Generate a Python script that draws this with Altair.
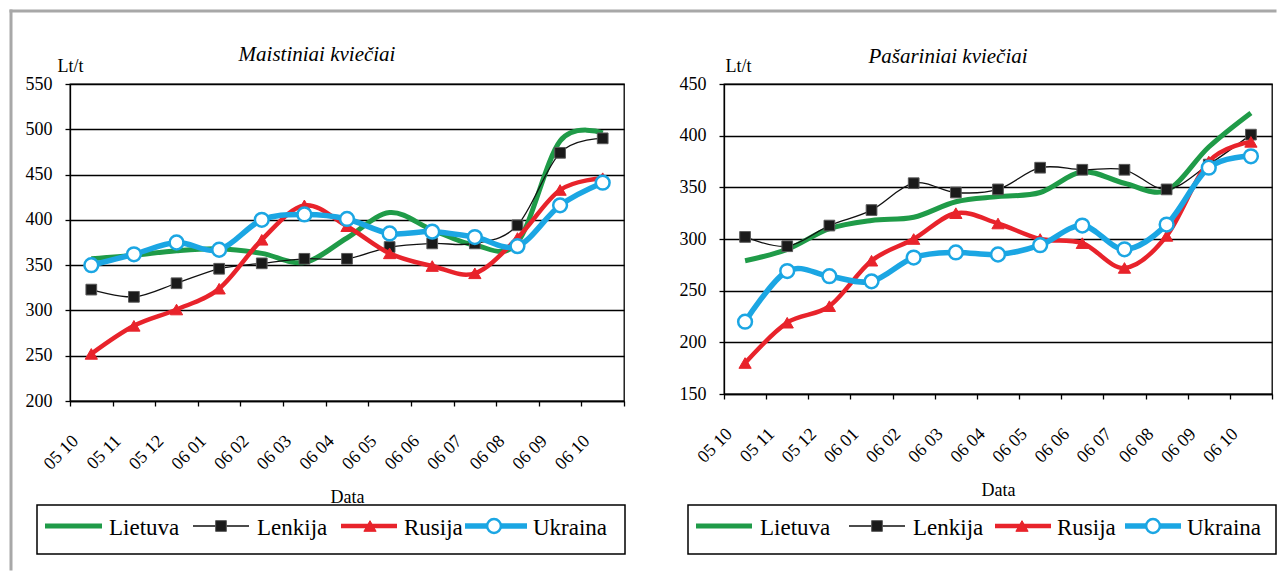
import altair as alt
import pandas as pd

months = ["05 10", "05 11", "05 12", "06 01", "06 02", "06 03", "06 04",
          "06 05", "06 06", "06 07", "06 08", "06 09", "06 10"]
series = ["Lietuva", "Lenkija", "Rusija", "Ukraina"]

# Maistiniai kviečiai (Lt/t)
food_lietuva = [357, 361, 366, 368, 363, 353, 380, 408, 389, 372, 375, 487, 496]
food_lenkija = [323, 315, 330, 346, 352, 357, 357, 370, 374, 374, 394, 474, 490]
food_rusija = [252, 283, 301, 324, 378, 416, 393, 363, 349, 341, 380, 433, 446]
food_ukraina = [350, 362, 375, 367, 400, 406, 401, 385, 387, 381, 371, 416, 441]

# Pašariniai kviečiai (Lt/t)
feed_lietuva = [279, 290, 310, 318, 321, 336, 341, 345, 365, 354, 347, 389, 422]
feed_lenkija = [302, 293, 313, 328, 354, 345, 348, 369, 367, 367, 348, 372, 401]
feed_rusija = [180, 219, 235, 279, 300, 325, 315, 300, 296, 272, 303, 375, 394]
feed_ukraina = [220, 269, 264, 259, 282, 287, 285, 294, 313, 290, 314, 369, 380]

FONT = "Liberation Serif"
GREEN = "#1f9b48"
BLACK = "#111111"
RED = "#e8232b"
BLUE = "#1ba6e3"
FRAME = "#a8a8a8"

style = {
    "Lietuva": dict(color=GREEN, width=5, marker=None),
    "Lenkija": dict(color=BLACK, width=1.3, marker="square"),
    "Rusija": dict(color=RED, width=4.5, marker="triangle-up"),
    "Ukraina": dict(color=BLUE, width=5.5, marker="circle"),
}


def one():
    return pd.DataFrame({"k": [0]})


def marker_mark(name, chart):
    m = style[name]["marker"]
    if m == "square":
        return chart.mark_point(shape="square", filled=True, fill="#1a1a1a",
                                stroke="#5a5a5a", strokeWidth=1, size=115, opacity=1)
    if m == "triangle-up":
        return chart.mark_point(shape="triangle-up", filled=True, fill=RED,
                                stroke=RED, strokeWidth=1, size=150, opacity=1)
    if m == "circle":
        return chart.mark_point(shape="circle", filled=True, fill="white",
                                stroke=BLUE, strokeWidth=2.5, size=190, opacity=1)
    return None


def panel(title, title_x, title_y, vals, ydom, W, H, ytx, lay, frame):
    rows = []
    for name, arr in zip(series, vals):
        for mo, v in zip(months, arr):
            rows.append({"month": mo, "series": name, "value": v})
    df = pd.DataFrame(rows)

    x = alt.X("month:N", sort=months, bandPosition=0.5,
              scale=alt.Scale(type="band", paddingInner=0, paddingOuter=0),
              axis=alt.Axis(title="Data", tickBand="extent", labelAngle=-45,
                            labelAlign="right", labelBaseline="middle",
                            labelOffset=-16, labelPadding=32, labelOverlap=False,
                            tickSize=5, grid=False, titleY=101,
                            titleBaseline="alphabetic"))
    yvals = list(range(ydom[0], ydom[1] + 1, 50))
    y = alt.Y("value:Q", scale=alt.Scale(domain=ydom, nice=False, zero=False),
              axis=alt.Axis(values=yvals, title="Lt/t", titleAngle=0,
                            titleAlign="left", titleBaseline="alphabetic",
                            titleX=ytx, titleY=-13, grid=True, tickSize=5,
                            labelPadding=13))

    layers = []
    # outer frame (decoration)
    if frame is not None:
        fx, fy, fx2, fy2 = frame
        layers.append(alt.Chart(one()).mark_rule(color=FRAME, strokeWidth=3, strokeCap="square")
                      .encode(x=alt.value(fx), y=alt.value(fy), y2=alt.value(fy2)))
        layers.append(alt.Chart(one()).mark_rule(color=FRAME, strokeWidth=3, strokeCap="square")
                      .encode(x=alt.value(fx), x2=alt.value(fx2), y=alt.value(fy)))

    # title
    layers.append(alt.Chart(one()).mark_text(font=FONT, fontStyle="italic", fontSize=21,
                                             align="center", baseline="alphabetic",
                                             color="black")
                  .encode(x=alt.value(title_x), y=alt.value(title_y), text=alt.value(title)))

    base = alt.Chart(df).encode(x=x, y=y)
    for name in series:
        s = style[name]
        sub = base.transform_filter(alt.datum.series == name)
        layers.append(sub.mark_line(color=s["color"], strokeWidth=s["width"],
                                    interpolate="cardinal"))
        mk = marker_mark(name, sub)
        if mk is not None:
            layers.append(mk)

    # legend
    bx, bx2, by, by2, ly, ty, items = lay
    layers.append(alt.Chart(one()).mark_rect(fill="white", stroke="black", strokeWidth=1.5)
                  .encode(x=alt.value(bx), x2=alt.value(bx2), y=alt.value(by), y2=alt.value(by2)))
    for name, (l1, l2, mc, tx) in zip(series, items):
        s = style[name]
        layers.append(alt.Chart(one()).mark_rule(color=s["color"],
                                                 strokeWidth=max(s["width"], 1.5))
                      .encode(x=alt.value(bx + l1), x2=alt.value(bx + l2), y=alt.value(ly)))
        mk = marker_mark(name, alt.Chart(one()))
        if mk is not None:
            layers.append(mk.encode(x=alt.value(bx + mc), y=alt.value(ly)))
        layers.append(alt.Chart(one()).mark_text(font=FONT, fontSize=23, align="left",
                                                 baseline="middle", color="black")
                      .encode(x=alt.value(bx + tx), y=alt.value(ty), text=alt.value(name)))

    return alt.layer(*layers).properties(width=W, height=H)


left_items = [(8, 65, 36, 72), (156, 212, 184, 220), (304, 360, 333, 367), (428, 490, 457, 496)]
right_items = [(8, 64, 36, 72), (161, 217, 189, 225), (307, 363, 334, 369), (437, 493, 465, 499)]

left = panel("Maistiniai kviečiai", 247, -23,
             [food_lietuva, food_lenkija, food_rusija, food_ukraina],
             [200, 550], 554, 317, -13,
             (-33, 555, 421, 470, 442, 444, left_items),
             (-59, -73, 1205, 485))
right = panel("Pašariniai kviečiai", 224, -21,
              [feed_lietuva, feed_lenkija, feed_rusija, feed_ukraina],
              [150, 450], 548, 310, 1,
              (-36, 552, 421, 470, 442, 444, right_items),
              None)

chart = alt.hconcat(left, right, spacing=100, bounds="flush").properties(
    padding={"left": 0, "top": 0, "right": 0, "bottom": 0}
).configure_view(stroke="black", strokeWidth=1.3).configure_axis(
    labelFont=FONT, titleFont=FONT, labelFontSize=18, titleFontSize=18,
    titleFontWeight="normal", labelColor="black", titleColor="black",
    domainColor="black", domainWidth=1.3, tickColor="black", tickWidth=1.3,
    gridColor="black", gridWidth=1.3
)

chart.save("out.html", embed_options={"renderer": "svg", "actions": False})
